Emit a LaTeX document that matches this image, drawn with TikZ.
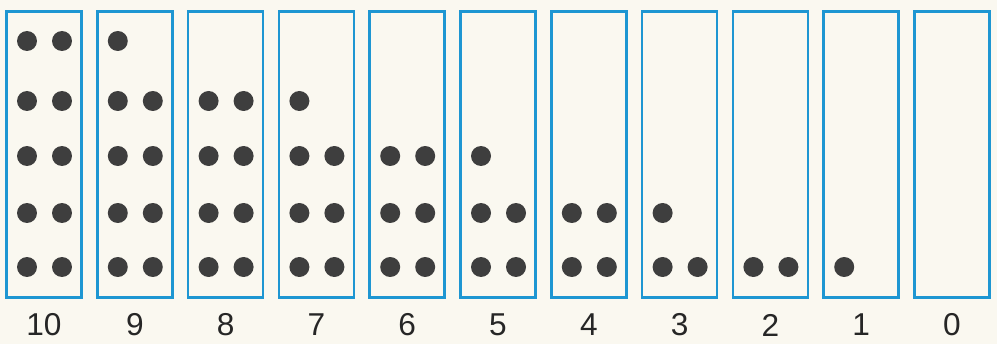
\documentclass[tikz,border=0pt]{standalone}
\usepackage{fontspec}
\setmainfont{Liberation Sans}
\definecolor{FrameBlue}{RGB}{30,150,210}
\definecolor{DotGray}{RGB}{62,62,62}
\definecolor{PaperTone}{RGB}{250,248,240}
\usetikzlibrary{positioning}

\begin{document}
\begin{tikzpicture}[x=0.02cm, y=-0.02cm,
    frame/.style={draw=FrameBlue, line width=1.5pt, minimum width=1.5cm, minimum height=5.72cm, inner sep=0pt},
    bead/.style={circle, fill=DotGray, minimum size=0.4cm, inner sep=0pt},
    digit/.style={font=\fontsize{18}{20}\selectfont, text=black!85}]
    \fill[PaperTone] (0,0) rectangle (997,344);
    \useasboundingbox (0,0) rectangle (997,344);
    % boxes, counts and dots: count runs 10 down to 0
    \foreach \i in {0,...,10} {
        \pgfmathtruncatemacro{\n}{10-\i}
        \node[frame] (box\i) at (44+90.8*\i, 154.5) {};
        \node[digit] (num\i) at (44+90.8*\i, 325) {\n};
        \foreach \r/\y in {1/267,2/213,3/156,4/101,5/41} {
            \pgfmathtruncatemacro{\k}{\n-2*(\r-1)}
            \ifnum\k>0
                \node[bead] (dot\i-\r-a) at (27+90.8*\i, \y) {};
            \fi
            \ifnum\k>1
                \node[bead] (dot\i-\r-b) at (62+90.8*\i, \y) {};
            \fi
        }
    }
\end{tikzpicture}
\end{document}
